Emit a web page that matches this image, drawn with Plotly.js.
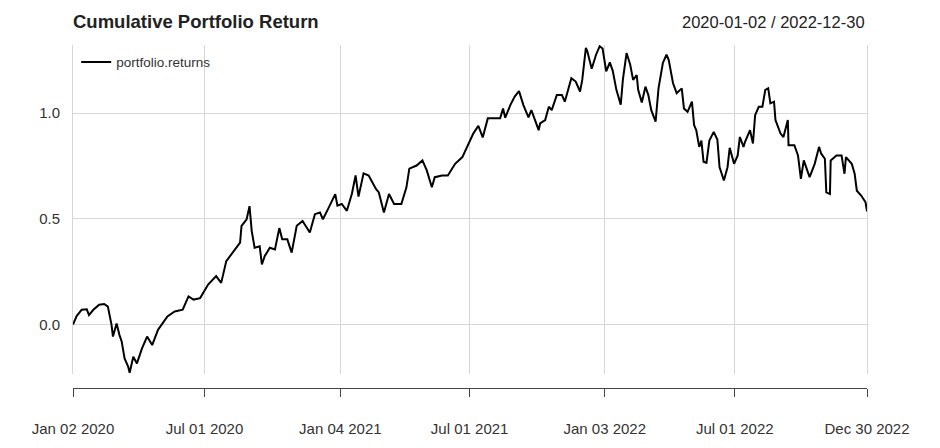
<!DOCTYPE html>
<html>
<head>
<meta charset="utf-8">
<script src="https://cdn.plot.ly/plotly-3.0.1.min.js"></script>
<style>
html,body{margin:0;padding:0;background:#fff;}
#chart{width:940px;height:448px;}
</style>
</head>
<body>
<div id="chart"></div>
<script>
// Cumulative portfolio return
const dates = [
'2020-01-02','2020-01-07','2020-01-14','2020-01-21','2020-01-24','2020-01-30','2020-02-07','2020-02-14','2020-02-19','2020-02-24',
'2020-02-26','2020-03-02','2020-03-06','2020-03-09','2020-03-13','2020-03-18','2020-03-20','2020-03-25','2020-03-30','2020-04-06',
'2020-04-13','2020-04-20','2020-04-28','2020-05-11','2020-05-21','2020-06-01','2020-06-09','2020-06-16','2020-06-25','2020-07-06',
'2020-07-17','2020-07-24','2020-07-31','2020-08-10','2020-08-19','2020-08-21','2020-08-28','2020-09-01','2020-09-04','2020-09-08',
'2020-09-15','2020-09-18','2020-09-22','2020-09-29','2020-10-06','2020-10-12','2020-10-16','2020-10-23','2020-10-29','2020-11-05',
'2020-11-13','2020-11-23','2020-11-30','2020-12-07','2020-12-11','2020-12-18','2020-12-28','2020-12-31','2021-01-06','2021-01-13',
'2021-01-20','2021-01-25','2021-01-29','2021-02-05','2021-02-12','2021-02-22','2021-02-26','2021-03-05','2021-03-12','2021-03-19',
'2021-03-29','2021-04-05','2021-04-09','2021-04-19','2021-04-27','2021-05-03','2021-05-10','2021-05-14','2021-05-24','2021-06-01',
'2021-06-11','2021-06-21','2021-06-29','2021-07-06','2021-07-13','2021-07-19','2021-07-26','2021-08-03','2021-08-12','2021-08-16',
'2021-08-19','2021-08-26','2021-09-01','2021-09-07','2021-09-13','2021-09-20','2021-09-24','2021-10-04','2021-10-06','2021-10-13',
'2021-10-18','2021-10-22','2021-10-29','2021-11-05','2021-11-09','2021-11-18','2021-11-24','2021-11-30','2021-12-03','2021-12-08',
'2021-12-10','2021-12-16','2021-12-22','2021-12-27','2021-12-31','2022-01-05','2022-01-10','2022-01-14','2022-01-19','2022-01-25',
'2022-01-28','2022-02-02','2022-02-07','2022-02-11','2022-02-16','2022-02-18','2022-02-23','2022-02-28','2022-03-04','2022-03-08',
'2022-03-14','2022-03-18','2022-03-24','2022-03-29','2022-04-01','2022-04-07','2022-04-12','2022-04-19','2022-04-22','2022-04-27',
'2022-05-03','2022-05-06','2022-05-09','2022-05-13','2022-05-16','2022-05-19','2022-05-23','2022-05-27','2022-06-02','2022-06-07',
'2022-06-10','2022-06-16','2022-06-21','2022-06-24','2022-06-30','2022-07-05','2022-07-08','2022-07-13','2022-07-15','2022-07-22',
'2022-07-26','2022-07-29','2022-08-03','2022-08-08','2022-08-12','2022-08-16','2022-08-19','2022-08-24','2022-08-26','2022-09-02',
'2022-09-06','2022-09-12','2022-09-13','2022-09-21','2022-09-26','2022-09-30','2022-10-04','2022-10-12','2022-10-14','2022-10-19',
'2022-10-25','2022-10-28','2022-11-02','2022-11-04','2022-11-09','2022-11-10','2022-11-18','2022-11-25','2022-11-29','2022-12-01',
'2022-12-09','2022-12-13','2022-12-16','2022-12-22','2022-12-28','2022-12-30'
];
const portfolioReturns = [
0.000,0.040,0.070,0.072,0.045,0.070,0.094,0.097,0.085,0.000,
-0.057,0.005,-0.050,-0.080,-0.160,-0.200,-0.228,-0.152,-0.184,-0.113,
-0.057,-0.097,-0.025,0.038,0.062,0.070,0.133,0.118,0.125,0.189,
0.229,0.197,0.300,0.348,0.387,0.467,0.498,0.560,0.443,0.363,
0.370,0.284,0.324,0.363,0.355,0.456,0.403,0.403,0.340,0.467,
0.490,0.435,0.522,0.530,0.498,0.546,0.617,0.562,0.570,0.538,
0.620,0.705,0.605,0.715,0.705,0.641,0.625,0.530,0.617,0.570,
0.570,0.649,0.737,0.752,0.776,0.729,0.649,0.697,0.705,0.705,
0.760,0.792,0.848,0.903,0.940,0.885,0.975,0.975,0.975,1.022,
0.978,1.038,1.078,1.104,1.038,0.980,1.014,0.919,0.951,0.967,
1.030,1.014,1.086,1.086,1.054,1.165,1.149,1.102,1.157,1.308,
1.292,1.210,1.276,1.316,1.305,1.197,1.240,1.200,1.110,1.040,
1.160,1.284,1.230,1.157,1.180,1.110,1.050,1.125,1.085,1.014,
0.960,1.117,1.237,1.276,1.252,1.141,1.094,1.117,1.022,1.006,
1.054,0.943,0.919,0.840,0.870,0.770,0.765,0.870,0.911,0.875,
0.745,0.681,0.744,0.836,0.760,0.800,0.887,0.840,0.863,0.919,
0.856,0.990,1.030,1.030,1.110,1.117,1.046,1.054,0.967,0.903,
0.887,0.967,0.848,0.848,0.800,0.689,0.776,0.697,0.713,0.760,
0.840,0.808,0.784,0.625,0.617,0.776,0.800,0.800,0.713,0.792,
0.760,0.713,0.633,0.610,0.578,0.535
];
const xTickVals = ['2020-01-02','2020-07-01','2021-01-04','2021-07-01','2022-01-03','2022-07-01','2022-12-30'];
const xTickText = ['Jan 02 2020','Jul 01 2020','Jan 04 2021','Jul 01 2021','Jan 03 2022','Jul 01 2022','Dec 30 2022'];
const yTickVals = [0, 0.5, 1.0];
const yTickText = ['0.0','0.5','1.0'];
const xRange = ['2020-01-02','2022-12-30'];
const yRange = [-0.232, 1.322];

const FONT = 'Liberation Sans, Arial, Helvetica, sans-serif';
const GRID = '#d6d6d6';

const trace = {
  x: dates, y: portfolioReturns, type: 'scatter', mode: 'lines',
  name: 'portfolio.returns',
  line: {color: '#000000', width: 2},
  xaxis: 'x', yaxis: 'y', hoverinfo: 'x+y'
};
// invisible helper trace for bottom axis
const helper = {
  x: xRange, y: [0, 0], type: 'scatter', mode: 'lines',
  line: {color: 'rgba(0,0,0,0)', width: 0},
  xaxis: 'x2', yaxis: 'y2', showlegend: false, hoverinfo: 'skip'
};

const layout = {
  width: 940, height: 448,
  margin: {l: 73, r: 73, t: 45, b: 60},
  paper_bgcolor: '#ffffff', plot_bgcolor: '#ffffff',
  font: {family: FONT, size: 15, color: '#333333'},
  title: {
    text: '<b>Cumulative Portfolio Return</b>',
    font: {family: FONT, size: 18.5, color: '#222222'},
    x: 73/940, xref: 'container', xanchor: 'left',
    y: 1 - 22/448, yref: 'container', yanchor: 'middle'
  },
  showlegend: true,
  legend: {
    x: 0.004, y: 0.995, xanchor: 'left', yanchor: 'top',
    bgcolor: 'rgba(255,255,255,0)', borderwidth: 0,
    font: {family: FONT, size: 13.5, color: '#333333'}
  },
  xaxis: {
    type: 'date', range: xRange, anchor: 'y',
    tickvals: xTickVals, ticktext: xTickText,
    showticklabels: false, ticks: '',
    showgrid: true, gridcolor: GRID, gridwidth: 1,
    showline: false, zeroline: false, fixedrange: true
  },
  yaxis: {
    domain: [0.042, 1], range: yRange, anchor: 'x',
    tickvals: yTickVals, ticktext: yTickText,
    ticks: '', ticklabelstandoff: 9,
    tickfont: {family: FONT, size: 15, color: '#333333'},
    showgrid: true, gridcolor: GRID, gridwidth: 1,
    zeroline: false, showline: true, mirror: true, linecolor: GRID, linewidth: 1,
    fixedrange: true
  },
  xaxis2: {
    type: 'date', range: xRange, anchor: 'y2',
    tickvals: xTickVals, ticktext: xTickText,
    ticks: 'outside', ticklen: 8, tickwidth: 1, tickcolor: '#444444',
    ticklabelstandoff: 19,
    tickfont: {family: FONT, size: 15, color: '#333333'},
    showline: true, linecolor: '#444444', linewidth: 1,
    showgrid: false, zeroline: false, fixedrange: true
  },
  yaxis2: {
    domain: [0, 0.002], anchor: 'x2', range: [0, 1],
    visible: false, showgrid: false, zeroline: false, fixedrange: true
  },
  annotations: [{
    text: '2020-01-02 / 2022-12-30',
    xref: 'paper', yref: 'paper', x: 1, y: (388 - 22) / 343,
    xanchor: 'right', yanchor: 'middle', showarrow: false,
    font: {family: FONT, size: 16.5, color: '#222222'}
  }]
};

Plotly.newPlot('chart', [trace, helper], layout, {displayModeBar: false, staticPlot: true});
</script>
</body>
</html>
